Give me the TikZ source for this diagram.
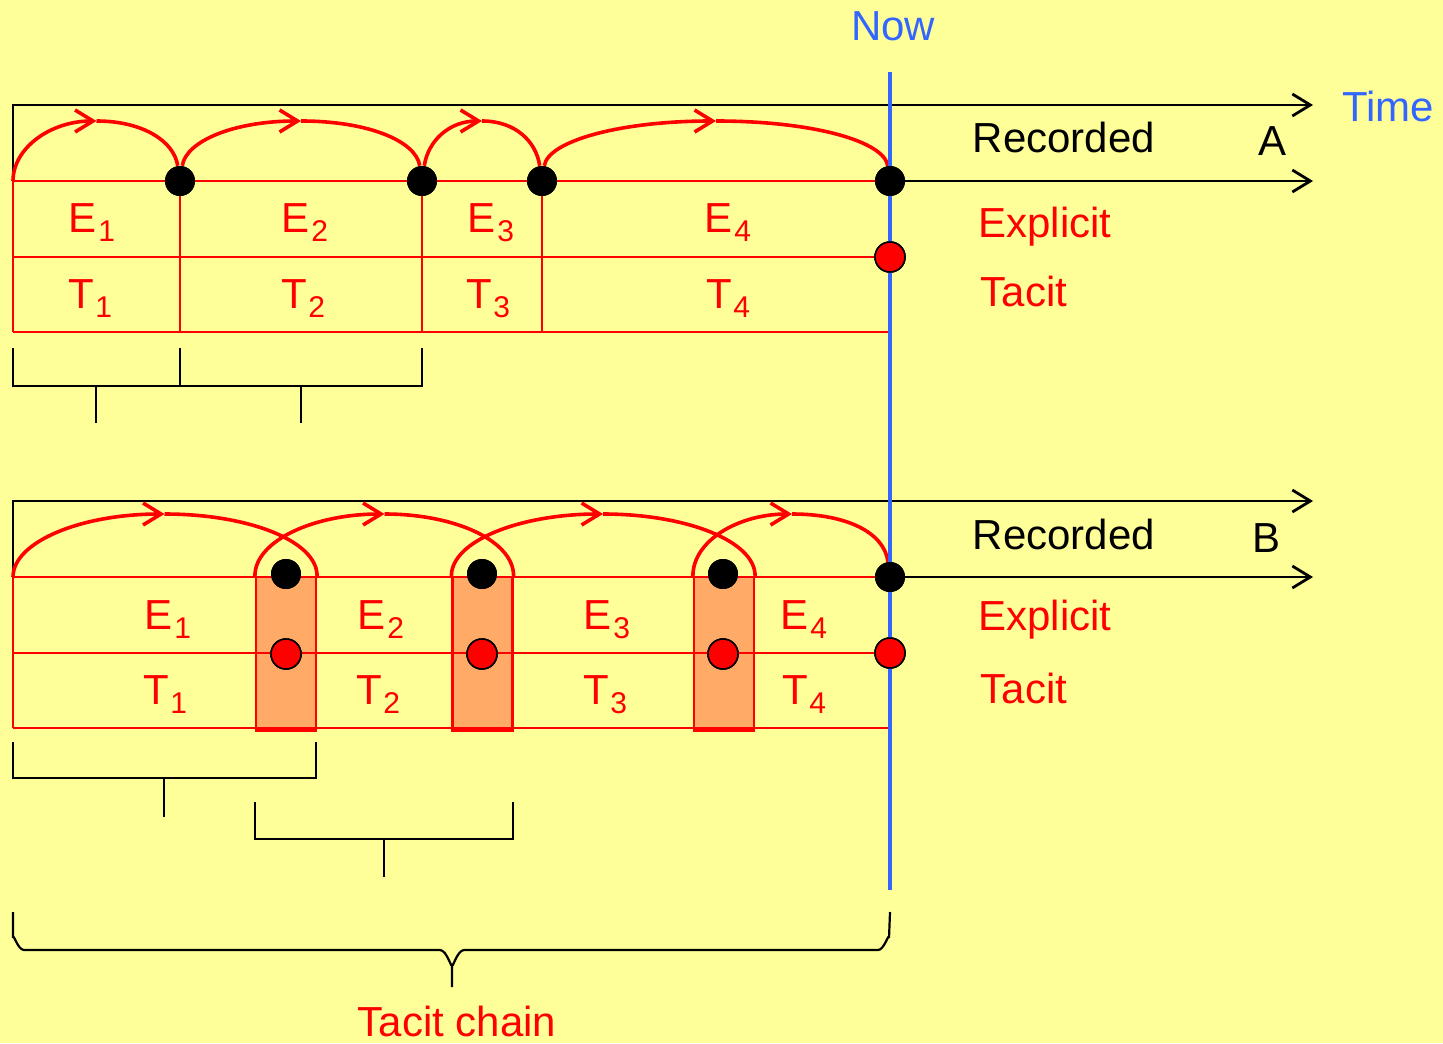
\documentclass[tikz,border=0pt]{standalone}
\usepackage{fontspec}
\setmainfont{Liberation Sans}
\usetikzlibrary{arrows.meta}
\definecolor{bg}{HTML}{FFFF99}
\definecolor{nowblue}{HTML}{3366FF}
\definecolor{boxorange}{HTML}{FFAA66}
\newcommand\lbl[2]{#1\hspace{0.8pt}\raisebox{-4.5pt}{\fontsize{15}{15}\selectfont #2}}
\begin{document}
\begin{tikzpicture}[x=0.5pt,y=-0.5pt,
  bigtext/.style={font=\fontsize{21}{25}\selectfont, inner sep=0pt, anchor=base},
  redtext/.style={bigtext,text=red},
  blacktext/.style={bigtext,text=black},
  bluetext/.style={bigtext,text=nowblue},
  axis/.style={draw=black,line width=1.4pt},
  axisarrow/.style={axis,-{Straight Barb[length=9pt,width=11pt]}},
  grid/.style={draw=red,line width=1.1pt},
  arcline/.style={draw=red,line width=1.8pt},
  arcarrow/.style={arcline,-{Straight Barb[length=9pt,width=11pt]}},
  blackdot/.style={circle,fill=black,inner sep=0pt,minimum size=15pt},
  reddot/.style={circle,fill=red,draw=black,line width=0.8pt,inner sep=0pt,minimum size=15pt},
  tacitbox/.style={draw=red,line width=1.1pt,fill=boxorange,inner sep=0pt,minimum width=30pt,minimum height=76pt},
  bracket/.style={draw=black,line width=1.1pt},
  nowline/.style={draw=nowblue,line width=1.7pt},
]
\fill[bg] (0,0) rectangle (1443,1043);
\useasboundingbox (0,0) rectangle (1443,1043);

% ---------------- coordinates ----------------
\coordinate (oA) at (13,181);
\coordinate (tA) at (13,105);
\coordinate (tAe) at (1313,105);
\coordinate (rAe) at (1313,181);
\coordinate (pA1) at (96.5,121);
\coordinate (pA2) at (301,121);
\coordinate (pA3) at (482,121);
\coordinate (pA4) at (716,121);

\coordinate (oB) at (13,577);
\coordinate (tB) at (13,501);
\coordinate (tBe) at (1313,501);
\coordinate (rBe) at (1313,577);
\coordinate (pB1) at (164.5,514);
\coordinate (pB2) at (384.5,514);
\coordinate (pB3) at (603,514);
\coordinate (pB4) at (792,514);

\coordinate (nowtop) at (890,72);
\coordinate (nowbot) at (890,890);

% ---------------- tacit boxes (B) ----------------
\node[tacitbox] (box1) at (286,653) {};
\node[tacitbox] (box2) at (482.5,653) {};
\node[tacitbox] (box3) at (724,653) {};

% ---------------- dot nodes ----------------
\path
  (180,181) node[blackdot] (dA1) {}
  (422,181) node[blackdot] (dA2) {}
  (542,181) node[blackdot] (dA3) {}
  (890,181) node[blackdot] (dA4) {}
  (890,257) node[reddot] (rA) {}
  (286,574) node[blackdot] (dB1) {}
  (482,574) node[blackdot] (dB2) {}
  (723,574) node[blackdot] (dB3) {}
  (890,577) node[blackdot] (dB4) {}
  (286,654) node[reddot] (rB1) {}
  (482,654) node[reddot] (rB2) {}
  (723,654) node[reddot] (rB3) {}
  (890,653) node[reddot] (rB) {};

% ---------------- grid A ----------------
\draw[grid] (oA) -- (dA4);
\draw[grid] (13,257) -- (rA);
\draw[grid] (13,332) -- (890,332);
\draw[grid] (oA) -- (13,332);
\draw[grid] (dA1) -- (180,332);
\draw[grid] (dA2) -- (422,332);
\draw[grid] (dA3) -- (542,332);

% ---------------- grid B ----------------
\draw[grid] (oB) -- (dB4);
\draw[grid] (13,653) -- (rB);
\draw[grid] (13,728) -- (890,728);
\draw[grid] (oB) -- (13,728);
\draw[draw=red,line width=1.6pt] (box1.south west) -- (box1.south east);
\draw[draw=red,line width=1.6pt] (box2.south west) -- (box2.south east);
\draw[draw=red,line width=1.6pt] (box3.south west) -- (box3.south east);

% ---------------- axes ----------------
\draw[axisarrow] (oA) -- (tA) -- (tAe);
\draw[axisarrow] (dA4) -- (rAe);
\draw[axisarrow] (oB) -- (tB) -- (tBe);
\draw[axisarrow] (dB4) -- (rBe);

% ---------------- arcs A ----------------
\draw[arcarrow] (oA) .. controls +(0,-33) and +(-46,0) .. (pA1);
\draw[arcline] (pA1) .. controls +(46,0) and +(-6,-40) .. (dA1);
\draw[arcarrow] (dA1) .. controls +(6,-40) and +(-67,0) .. (pA2);
\draw[arcline] (pA2) .. controls +(67,0) and +(-6,-40) .. (dA2);
\draw[arcarrow] (dA2) .. controls +(6,-40) and +(-33,0) .. (pA3);
\draw[arcline] (pA3) .. controls +(33,0) and +(-6,-40) .. (dA3);
\draw[arcarrow] (dA3) .. controls +(6,-40) and +(-96,0) .. (pA4);
\draw[arcline] (pA4) .. controls +(96,0) and +(-6,-40) .. (dA4);

% ---------------- arcs B ----------------
\draw[arcarrow] (oB) .. controls +(0,-35) and +(-84,0) .. (pB1);
\draw[arcline] (pB1) .. controls +(84,0) and +(0,-35) .. (box1.north east);
\draw[arcarrow] (box1.north west) .. controls +(0,-35) and +(-71,0) .. (pB2);
\draw[arcline] (pB2) .. controls +(71,0) and +(0,-35) .. (box2.north east);
\draw[arcarrow] (box2.north west) .. controls +(0,-35) and +(-83,0) .. (pB3);
\draw[arcline] (pB3) .. controls +(83,0) and +(0,-35) .. (box3.north east);
\draw[arcarrow] (box3.north west) .. controls +(0,-35) and +(-54,0) .. (pB4);
\draw[arcline] (pB4) .. controls +(54,0) and +(-6,-45) .. (dB4);

% ---------------- now line ----------------
\draw[nowline] (nowtop) -- (nowbot);

% redraw dots on top
\path
  (180,181) node[blackdot] {}
  (422,181) node[blackdot] {}
  (542,181) node[blackdot] {}
  (890,181) node[blackdot] {}
  (890,257) node[reddot] {}
  (286,574) node[blackdot] {}
  (482,574) node[blackdot] {}
  (723,574) node[blackdot] {}
  (890,577) node[blackdot] {}
  (286,654) node[reddot] {}
  (482,654) node[reddot] {}
  (723,654) node[reddot] {}
  (890,653) node[reddot] {};

% ---------------- brackets ----------------
\draw[bracket] (13,348) -- (13,386) -- (422,386) -- (422,348);
\draw[bracket] (180,348) -- (180,386);
\draw[bracket] (96,386) -- (96,423);
\draw[bracket] (301,386) -- (301,423);

\draw[bracket] (13,742) -- (13,778) -- (316,778) -- (316,742);
\draw[bracket] (164,778) -- (164,817);
\draw[bracket] (255,802) -- (255,839) -- (513,839) -- (513,802);
\draw[bracket] (384,839) -- (384,877);

% big brace
\draw[bracket] (13,912) -- (13,938) to[out=90,in=180] (24,950) -- (440,950)
  to[out=0,in=-90] (452,964) -- (452,987);
\draw[bracket] (452,964) to[out=-90,in=180] (464,950) -- (878,950)
  to[out=0,in=90] (889,938) -- (890,912);

% ---------------- texts ----------------
\node[bluetext] (now) at (893,41) {Now};
\node[bluetext] (time) at (1388,122) {Time};

\node[blacktext] (recA) at (1064,153) {Recorded};
\node[blacktext] (labA) at (1272,156) {A};
\node[redtext] (expA) at (1045,237) {Explicit};
\node[redtext] (tacA) at (1024,306) {Tacit};

\node[blacktext] (recB) at (1064,549) {Recorded};
\node[blacktext] (labB) at (1266,552) {B};
\node[redtext] (expB) at (1045,630) {Explicit};
\node[redtext] (tacB) at (1024,703) {Tacit};

\node[redtext] (chain) at (457,1036) {Tacit chain};

\node[redtext] (eA1) at (92,233) {\lbl{E}{1}};
\node[redtext] (eA2) at (305,233) {\lbl{E}{2}};
\node[redtext] (eA3) at (491,233) {\lbl{E}{3}};
\node[redtext] (eA4) at (728,233) {\lbl{E}{4}};
\node[redtext] (tA1) at (90,308) {\lbl{T}{1}};
\node[redtext] (tA2) at (303,308) {\lbl{T}{2}};
\node[redtext] (tA3) at (488,308) {\lbl{T}{3}};
\node[redtext] (tA4) at (728,308) {\lbl{T}{4}};

\node[redtext] (eB1) at (168,629) {\lbl{E}{1}};
\node[redtext] (eB2) at (381,629) {\lbl{E}{2}};
\node[redtext] (eB3) at (607,629) {\lbl{E}{3}};
\node[redtext] (eB4) at (804,629) {\lbl{E}{4}};
\node[redtext] (tB1) at (165,704) {\lbl{T}{1}};
\node[redtext] (tB2) at (378,704) {\lbl{T}{2}};
\node[redtext] (tB3) at (605,704) {\lbl{T}{3}};
\node[redtext] (tB4) at (804,704) {\lbl{T}{4}};
\end{tikzpicture}
\end{document}
